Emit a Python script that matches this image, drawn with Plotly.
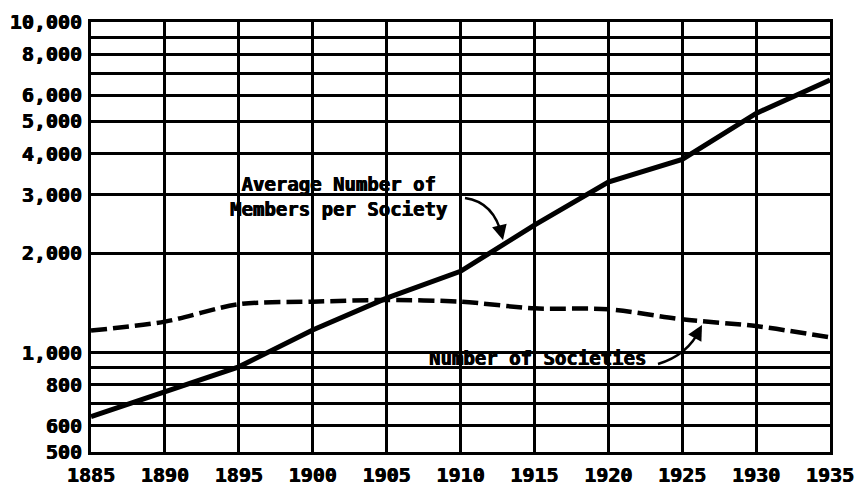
import plotly.graph_objects as go

years = [1885, 1890, 1895, 1900, 1905, 1910, 1915, 1920, 1925, 1930, 1935]
avg_members = [640, 760, 905, 1170, 1460, 1760, 2430, 3280, 3840, 5290, 6680]
num_societies = [1165, 1240, 1400, 1425, 1442, 1425, 1360, 1352, 1260, 1202, 1111]

y_grid = [500, 600, 700, 800, 900, 1000, 2000, 3000, 4000, 5000, 6000, 7000, 8000, 9000, 10000]
y_labels = ["500", "600", "", "800", "", "1,000", "2,000", "3,000", "4,000", "5,000",
            "6,000", "", "8,000", "", "10,000"]
x_ticks = years

FONT = "DejaVu Sans Mono"
HEAVY = "0.6px 0 0 black, -0.3px 0 0 black"

# plot area in page pixels
L, R, T, B = 91, 830, 22, 452
W, H = 858, 492


def px(x):
    return (x - L) / (R - L)


def py(y):
    return (B - y) / (B - T)


fig = go.Figure()

fig.add_trace(go.Scatter(
    x=years, y=num_societies, mode="lines",
    line=dict(color="black", width=4.5, dash="16px,6px", shape="spline", smoothing=0.8),
    name="Number of Societies"))

fig.add_trace(go.Scatter(
    x=years, y=avg_members, mode="lines",
    line=dict(color="black", width=5),
    name="Average Number of Members per Society"))

# curved arrow bodies
fig.add_shape(type="path", xref="paper", yref="paper",
              path=f"M {px(465)},{py(198)} Q {px(494)},{py(202)} {px(502)},{py(236)}",
              line=dict(color="black", width=2.5))
fig.add_shape(type="path", xref="paper", yref="paper",
              path=f"M {px(658)},{py(364)} Q {px(688)},{py(355)} {px(700)},{py(329)}",
              line=dict(color="black", width=2.5))

fig.add_annotation(xref="paper", yref="paper", x=px(503), y=py(240), text="",
                   showarrow=True, arrowhead=2, arrowsize=1.2, arrowwidth=2.5,
                   arrowcolor="black", ax=-3, ay=-12)
fig.add_annotation(xref="paper", yref="paper", x=px(702), y=py(325), text="",
                   showarrow=True, arrowhead=2, arrowsize=1.2, arrowwidth=2.5,
                   arrowcolor="black", ax=-6, ay=11)

note_font = dict(family=FONT, size=19, color="black", weight="bold", shadow=HEAVY)
fig.add_annotation(xref="paper", yref="paper", x=px(338), y=py(197),
                   text="Average Number of<br>Members per Society", showarrow=False,
                   font=note_font, align="center")
fig.add_annotation(xref="paper", yref="paper", x=px(537), y=py(371),
                   text="Number of Societies", showarrow=False, font=note_font)

tick_font = dict(family=FONT, size=20, color="black", weight="bold", shadow=HEAVY)
fig.update_xaxes(range=[1885, 1935], tickvals=x_ticks, ticktext=[str(y) for y in x_ticks],
                 showgrid=True, gridcolor="black", gridwidth=2.5,
                 showline=True, linecolor="black", linewidth=3, mirror=True,
                 zeroline=False, ticks="", ticklabelstandoff=3, automargin=False,
                 tickfont=tick_font)
fig.update_yaxes(type="log", range=[2.69897, 4], tickvals=y_grid, ticktext=y_labels,
                 showgrid=True, gridcolor="black", gridwidth=2.5,
                 showline=True, linecolor="black", linewidth=3, mirror=True,
                 zeroline=False, ticks="", ticklabelstandoff=2, automargin=False,
                 tickfont=tick_font)

fig.update_layout(width=W, height=H, showlegend=False,
                  margin=dict(l=L, r=W - R, t=T, b=H - B),
                  paper_bgcolor="white", plot_bgcolor="white")

fig.write_html("out.html", config={"displayModeBar": False},
               post_script="document.body.style.margin='0';document.body.style.overflow='hidden';")
